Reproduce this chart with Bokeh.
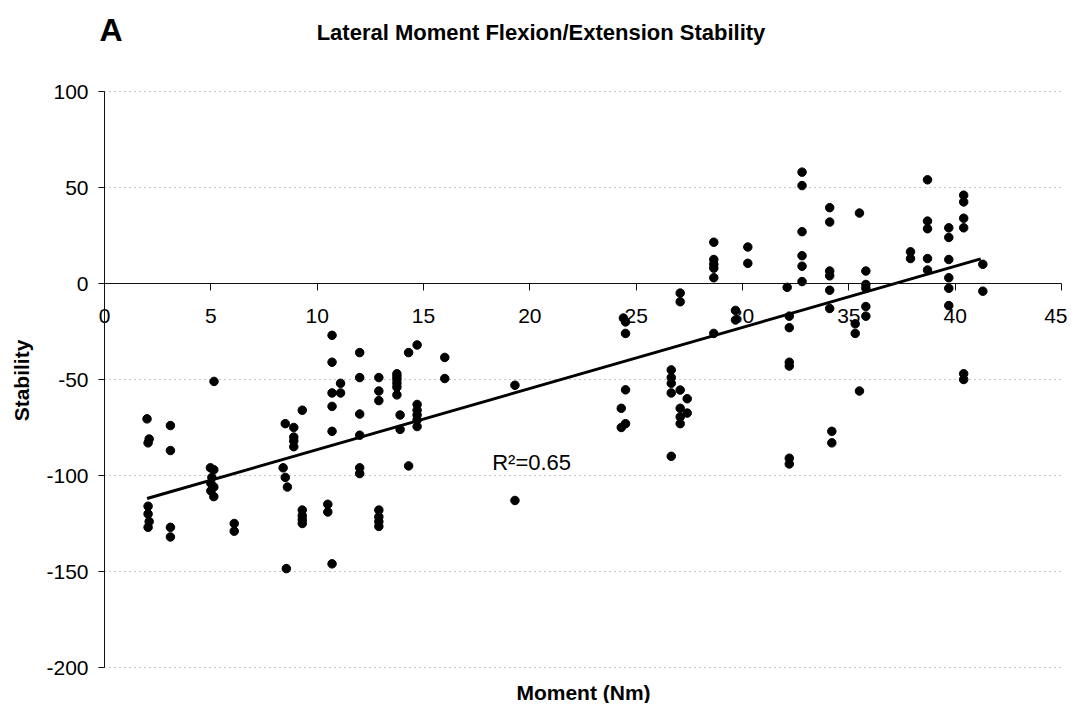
import math
from bokeh.plotting import figure
from bokeh.models import Label, ColumnDataSource, FixedTicker, CustomJSTickFormatter
from bokeh.embed import file_html
from bokeh.resources import INLINE

# ---- data ----
moment = [
    2.0, 2.1, 2.05, 2.05, 2.05, 2.1, 2.05,
    3.1, 3.1, 3.1, 3.1,
    5.15, 4.98, 5.14, 5.05, 5.0, 5.14, 5.0, 5.14,
    6.1, 6.1,
    8.5, 8.4, 8.5, 8.6, 8.55,
    8.9, 8.9, 8.9, 8.9,
    9.3, 9.3, 9.3, 9.3, 9.3,
    10.5, 10.5,
    10.7, 10.7, 10.7, 10.7, 10.7, 10.7,
    11.1, 11.1,
    12.0, 12.0, 12.0, 12.0, 12.0, 12.0,
    12.9, 12.9, 12.9, 12.9, 12.9, 12.9, 12.9,
    13.75, 13.75, 13.75, 13.75, 13.75, 13.75,
    13.9, 13.9,
    14.3, 14.3,
    14.7, 14.7, 14.7, 14.7, 14.7, 14.7,
    16.0, 16.0,
    19.3, 19.3,
    24.4, 24.5, 24.5, 24.5, 24.3, 24.5, 24.3,
    26.65, 26.65, 26.65, 26.65, 26.65,
    27.07, 27.07, 27.07, 27.07, 27.07, 27.07,
    27.4, 27.4,
    28.65, 28.65, 28.65, 28.65, 28.65, 28.65,
    29.67, 29.67,
    30.25, 30.25,
    32.1, 32.2, 32.2, 32.2, 32.2, 32.2, 32.2,
    32.8, 32.8, 32.8, 32.8, 32.8, 32.8,
    34.1, 34.1, 34.1, 34.1, 34.1, 34.1,
    34.2, 34.2,
    35.5, 35.5,
    35.3, 35.3,
    35.8, 35.8, 35.8, 35.8, 35.8,
    37.9, 37.9,
    38.7, 38.7, 38.7, 38.7, 38.7,
    39.7, 39.7, 39.7, 39.7, 39.7, 39.7,
    40.4, 40.4, 40.4, 40.4, 40.4, 40.4,
    41.3, 41.3,
]
stability = [
    -70.5, -81, -83, -116, -120, -124, -127,
    -74, -87, -127, -132,
    -51, -96, -97, -101, -104, -106, -108, -111,
    -125, -129,
    -73, -96, -101, -106, -148.5,
    -75, -80, -82, -85,
    -66, -118, -121, -123, -125,
    -115, -119,
    -27, -41, -57, -64, -77, -146,
    -52, -57,
    -36, -49, -68, -79, -96, -99,
    -49, -56, -61, -118, -121.5, -124, -126.5,
    -47, -48.5, -50, -52, -54, -58,
    -68.5, -76,
    -36, -95,
    -32, -63, -66, -68.5, -71, -74.5,
    -38.5, -49.5,
    -53, -113,
    -18, -20, -26, -55.4, -65, -73, -75,
    -45, -49, -52, -57, -90,
    -5, -9.5, -55.5, -65, -69.5, -73,
    -60, -67.5,
    21.5, 12.5, 10, 8, 3, -26,
    -14, -19,
    19, 10.5,
    -2, -17, -23, -41, -43, -91, -94,
    58, 51, 27, 14.5, 9, 1,
    39.5, 32, 6.5, 4, -3.5, -13,
    -77, -83,
    36.7, -56,
    -21, -26,
    6.5, -0.5, -2.5, -12, -17,
    16.5, 13,
    54, 32.5, 28.5, 13, 7,
    29, 24, 12.5, 3, -2.5, -11.5,
    46, 42.5, 34, 29, -47, -50,
    10, -4,
]
trend_x = [2.0, 41.2]
trend_y = [-112.0, 12.8]
x_ticks = [0, 5, 10, 15, 20, 25, 30, 35, 40, 45]
y_ticks = [-200, -150, -100, -50, 0, 50, 100]
grid_ticks = [-200, -150, -100, -50, 50, 100]
x_limits = (0, 45)
y_limits = (-200, 100)
title_text = "Lateral Moment Flexion/Extension Stability"
panel_text = "A"
x_label = "Moment (Nm)"
y_label = "Stability"
r2_text = "R\u00b2=0.65"

FONT = "Liberation Sans"

# ---- layout: the frame fills the whole canvas; axes sit at fixed locations ----
W, H = 1067, 703
PX_LEFT, PX_RIGHT = 104.0, 1061.0     # pixel of x = 0 and x = 45
PX_TOP, PX_BOTTOM = 91.0, 667.0       # pixel of y = 100 and y = -200
SX = (PX_RIGHT - PX_LEFT) / (x_limits[1] - x_limits[0])
SY = (PX_BOTTOM - PX_TOP) / (y_limits[1] - y_limits[0])
X0 = x_limits[0] - PX_LEFT / SX
X1 = X0 + W / SX
Y1 = y_limits[1] + PX_TOP / SY
Y0 = Y1 - H / SY


def px_x(px):
    return X0 + px / SX


def px_y(py):
    return Y1 - py / SY


p = figure(width=W, height=H, x_range=(X0, X1), y_range=(Y0, Y1),
           output_backend="svg", toolbar_location=None,
           min_border_left=0, min_border_right=0,
           min_border_top=0, min_border_bottom=0)
p.title.text = ""
p.outline_line_color = None
p.background_fill_color = "white"
p.border_fill_color = "white"

# horizontal dotted gridlines, limited to the plotted x extent
p.xgrid.visible = False
p.ygrid.visible = False
p.segment(x0=[x_limits[0]] * len(grid_ticks), x1=[x_limits[1]] * len(grid_ticks),
          y0=grid_ticks, y1=grid_ticks,
          line_color="#8a8a8a", line_dash="1 4", line_width=1)

fmt = CustomJSTickFormatter(code="return String(tick);")
p.xaxis.fixed_location = 0
p.yaxis.fixed_location = 0
p.xaxis.bounds = x_limits
p.yaxis.bounds = y_limits
p.xaxis.ticker = FixedTicker(ticks=x_ticks)
p.yaxis.ticker = FixedTicker(ticks=y_ticks)
for ax in (p.xaxis, p.yaxis):
    ax.formatter = fmt
    ax.axis_line_color = "#111111"
    ax.axis_line_width = 1
    ax.major_tick_line_color = "#111111"
    ax.major_tick_in = 0
    ax.minor_tick_line_color = None
    ax.major_label_text_font = FONT
    ax.major_label_text_font_size = "21px"
    ax.major_label_text_color = "black"
p.xaxis.major_tick_out = 7
p.yaxis.major_tick_out = 6
p.xaxis.major_label_standoff = 18
p.yaxis.major_label_standoff = 10

src = ColumnDataSource(data=dict(x=moment, y=stability))
p.scatter("x", "y", source=src, size=8.5, color="black", line_color="black")
p.line(trend_x, trend_y, line_color="black", line_width=3)

p.add_layout(Label(x=px_x(491.7), y=px_y(462), text=r2_text, text_font=FONT,
                   text_font_size="22px", text_align="left", text_baseline="middle",
                   text_color="black"))
p.add_layout(Label(x=px_x(110.5), y=px_y(29), text=panel_text,
                   text_font=FONT, text_font_size="32px", text_font_style="bold",
                   text_align="center", text_baseline="middle", text_color="black"))
p.add_layout(Label(x=px_x(540.5), y=px_y(31.5), text=title_text,
                   text_font=FONT, text_font_size="22px", text_font_style="bold",
                   text_align="center", text_baseline="middle", text_color="black"))
p.add_layout(Label(x=px_x(583), y=px_y(692), text=x_label,
                   text_font=FONT, text_font_size="21px", text_font_style="bold",
                   text_align="center", text_baseline="middle", text_color="black"))
p.add_layout(Label(x=px_x(21), y=px_y(380), text=y_label, angle=math.pi / 2,
                   text_font=FONT, text_font_size="21px", text_font_style="bold",
                   text_align="center", text_baseline="middle", text_color="black"))

open("out.html", "w").write(file_html(p, INLINE))
